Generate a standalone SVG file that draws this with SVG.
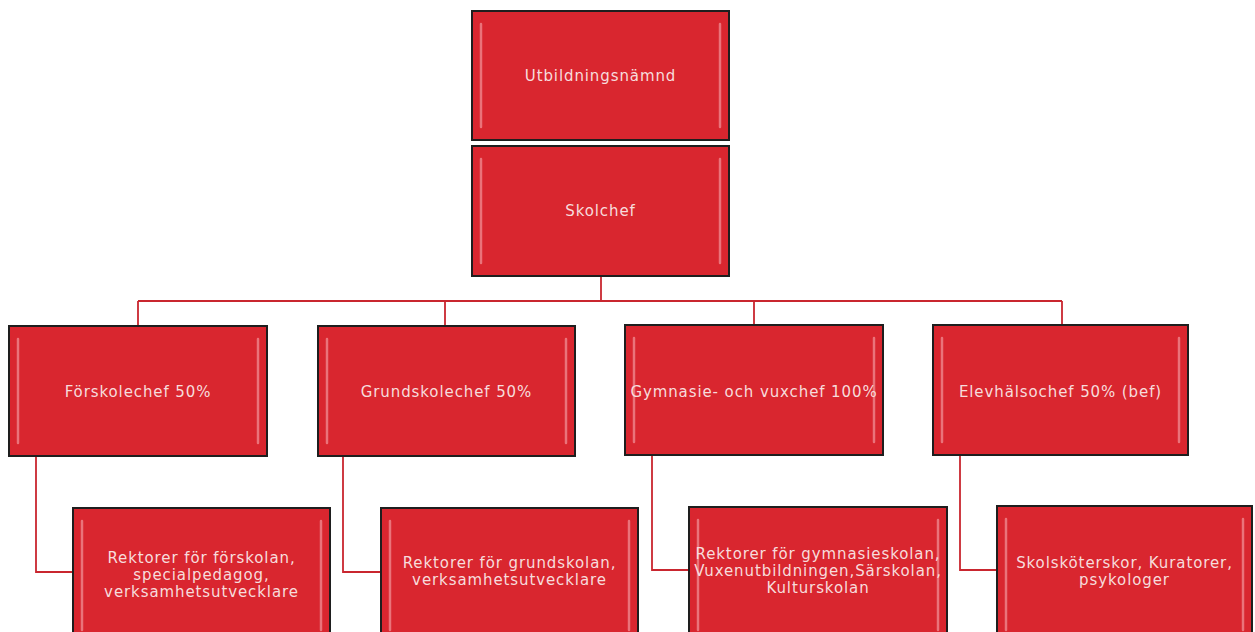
<svg xmlns="http://www.w3.org/2000/svg" width="1255" height="632" viewBox="0 0 1255 632">
<style>
.box{fill:#d9262f;stroke:#1e1e1e;stroke-width:2}
.hl{stroke:#f08d93;stroke-width:2.5;stroke-linecap:round;opacity:0.75}
.t{font-family:"DejaVu Sans",Verdana,sans-serif;font-size:15px;fill:#f7dcdc;text-anchor:middle;letter-spacing:0.9px}
.c{fill:none;stroke:#c9262f;stroke-width:1.8}
</style>
<rect width="1255" height="632" fill="#ffffff"/>
<g id="connectors">
<path class="c" d="M601,276 V301"/>
<path class="c" d="M138,301 H1062"/>
<path class="c" d="M138,301 V326 M445,301 V326 M754,301 V325 M1062,301 V325"/>
<path class="c" d="M36,456 V572 H73"/>
<path class="c" d="M343,456 V572 H381"/>
<path class="c" d="M652,455 V570 H689"/>
<path class="c" d="M960,455 V570 H997"/>
</g>
<g id="utbildningsnamnd">
<rect class="box" x="472" y="11" width="257" height="129"/>
<path class="hl" d="M481,24 V127 M720,24 V127"/>
<text class="t" x="600.5" y="81">Utbildningsnämnd</text>
</g>
<g id="skolchef">
<rect class="box" x="472" y="146" width="257" height="130"/>
<path class="hl" d="M481,159 V263 M720,159 V263"/>
<text class="t" x="600.5" y="216">Skolchef</text>
</g>
<g id="forskolechef">
<rect class="box" x="9" y="326" width="258" height="130"/>
<path class="hl" d="M18,339 V443 M258,339 V443"/>
<text class="t" x="138" y="397">Förskolechef 50%</text>
</g>
<g id="grundskolechef">
<rect class="box" x="318" y="326" width="257" height="130"/>
<path class="hl" d="M327,339 V443 M566,339 V443"/>
<text class="t" x="446.5" y="397">Grundskolechef 50%</text>
</g>
<g id="gymnasiechef">
<rect class="box" x="625" y="325" width="258" height="130"/>
<path class="hl" d="M634,338 V442 M874,338 V442"/>
<text class="t" x="754" y="397">Gymnasie- och vuxchef 100%</text>
</g>
<g id="elevhalsochef">
<rect class="box" x="933" y="325" width="255" height="130"/>
<path class="hl" d="M942,338 V442 M1179,338 V442"/>
<text class="t" x="1060.5" y="397">Elevhälsochef 50% (bef)</text>
</g>
<g id="rektorer-forskolan">
<rect class="box" x="73" y="508" width="257" height="130"/>
<path class="hl" d="M82,521 V630 M321,521 V630"/>
<text class="t" x="201.5" y="563">Rektorer för förskolan,</text>
<text class="t" x="201.5" y="580">specialpedagog,</text>
<text class="t" x="201.5" y="597">verksamhetsutvecklare</text>
</g>
<g id="rektorer-grundskolan">
<rect class="box" x="381" y="508" width="257" height="130"/>
<path class="hl" d="M390,521 V630 M629,521 V630"/>
<text class="t" x="509.5" y="568">Rektorer för grundskolan,</text>
<text class="t" x="509.5" y="585">verksamhetsutvecklare</text>
</g>
<g id="rektorer-gymnasieskolan">
<rect class="box" x="689" y="507" width="258" height="130"/>
<path class="hl" d="M698,520 V630 M938,520 V630"/>
<text class="t" x="818" y="559">Rektorer för gymnasieskolan,</text>
<text class="t" x="818" y="576">Vuxenutbildningen,Särskolan,</text>
<text class="t" x="818" y="593">Kulturskolan</text>
</g>
<g id="elevhalsa">
<rect class="box" x="997" y="506" width="255" height="130"/>
<path class="hl" d="M1006,519 V630 M1243,519 V630"/>
<text class="t" x="1124.5" y="568">Skolsköterskor, Kuratorer,</text>
<text class="t" x="1124.5" y="585">psykologer</text>
</g>
</svg>
